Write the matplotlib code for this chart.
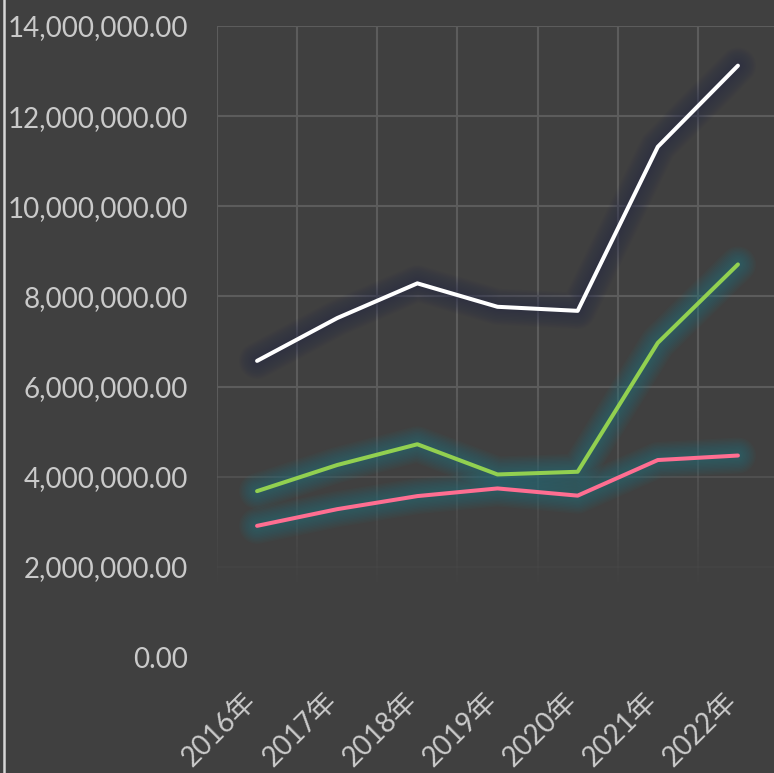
import matplotlib
matplotlib.use('Agg')
import matplotlib.pyplot as plt
import matplotlib.transforms as mtransforms
import numpy as np
from matplotlib.collections import LineCollection
from matplotlib.lines import Line2D

# data
years = ['2016年', '2017年', '2018年', '2019年', '2020年', '2021年', '2022年']
white_vals = [6.57e6, 7.52e6, 8.29e6, 7.77e6, 7.68e6, 11.32e6, 13.12e6]
green_vals = [3.68e6, 4.26e6, 4.72e6, 4.05e6, 4.11e6, 6.97e6, 8.71e6]
pink_vals = [2.91e6, 3.28e6, 3.57e6, 3.74e6, 3.58e6, 4.37e6, 4.47e6]
y_ticks = [0, 2e6, 4e6, 6e6, 8e6, 10e6, 12e6, 14e6]

bg = '#404040'
grid_col = (0.36, 0.36, 0.36)
text_col = '#cacaca'
fonts = ['Lato', 'Noto Sans CJK SC', 'DejaVu Sans']

fig = plt.figure(figsize=(7.74, 7.73), dpi=100, facecolor=bg)
ax = fig.add_axes([217 / 774, 116 / 773, 561 / 774, 631 / 773])
ax.set_facecolor(bg)
for s in ax.spines.values():
    s.set_visible(False)

x = np.arange(len(years))
ax.set_xlim(-0.5, len(years) - 0.5)
ax.set_ylim(0, 14e6)


# grid fades out towards the bottom
def fade(v):
    return float(np.clip((v - 1.5e6) / (6e6 - 1.5e6), 0, 1))


segs, cols = [], []
ys = np.linspace(1.5e6, 14e6, 80)
for xb in np.arange(-0.5, len(years), 1.0):
    for y0, y1 in zip(ys[:-1], ys[1:]):
        segs.append([(xb, y0), (xb, y1)])
        cols.append((*grid_col, fade((y0 + y1) / 2)))
for yt in y_ticks:
    a = fade(yt)
    if a > 0:
        segs.append([(-0.5, yt), (len(years) - 0.5, yt)])
        cols.append((*grid_col, a))
ax.add_collection(LineCollection(segs, colors=cols, linewidths=1.5, capstyle='butt', zorder=1))

series = [
    (white_vals, '#ffffff', '#262a4a'),
    (green_vals, '#92d050', '#237684'),
    (pink_vals, '#ff6e91', '#237684'),
]
# soft glow under each line
for vals, col, glow in series:
    for w in np.arange(4, 27, 2):
        ax.plot(x, vals, color=glow, lw=w, alpha=0.06, solid_capstyle='round',
                solid_joinstyle='round', zorder=2)
for vals, col, glow in series:
    ax.plot(x, vals, color=col, lw=2.9, solid_capstyle='round',
            solid_joinstyle='round', zorder=3)

ax.set_yticks(y_ticks)
ax.set_yticklabels(['{:,.2f}'.format(v) for v in y_ticks], color=text_col,
                   fontsize=20, family=fonts)
ax.set_xticks(x)
ax.set_xticklabels(years, rotation=45, ha='right', rotation_mode='anchor',
                   color=text_col, fontsize=20, family=fonts)
ax.tick_params(axis='y', length=0, pad=21)
ax.tick_params(axis='x', length=0, pad=22)
shift = mtransforms.ScaledTranslation(-14 / 100, 0, fig.dpi_scale_trans)
for lab in ax.get_xticklabels():
    lab.set_transform(lab.get_transform() + shift)

fig.add_artist(Line2D([4 / 774, 4 / 774], [0, 1], color='#d6d6d6', lw=1.8,
                      transform=fig.transFigure))

fig.savefig('out.png', dpi=100, facecolor=bg)
